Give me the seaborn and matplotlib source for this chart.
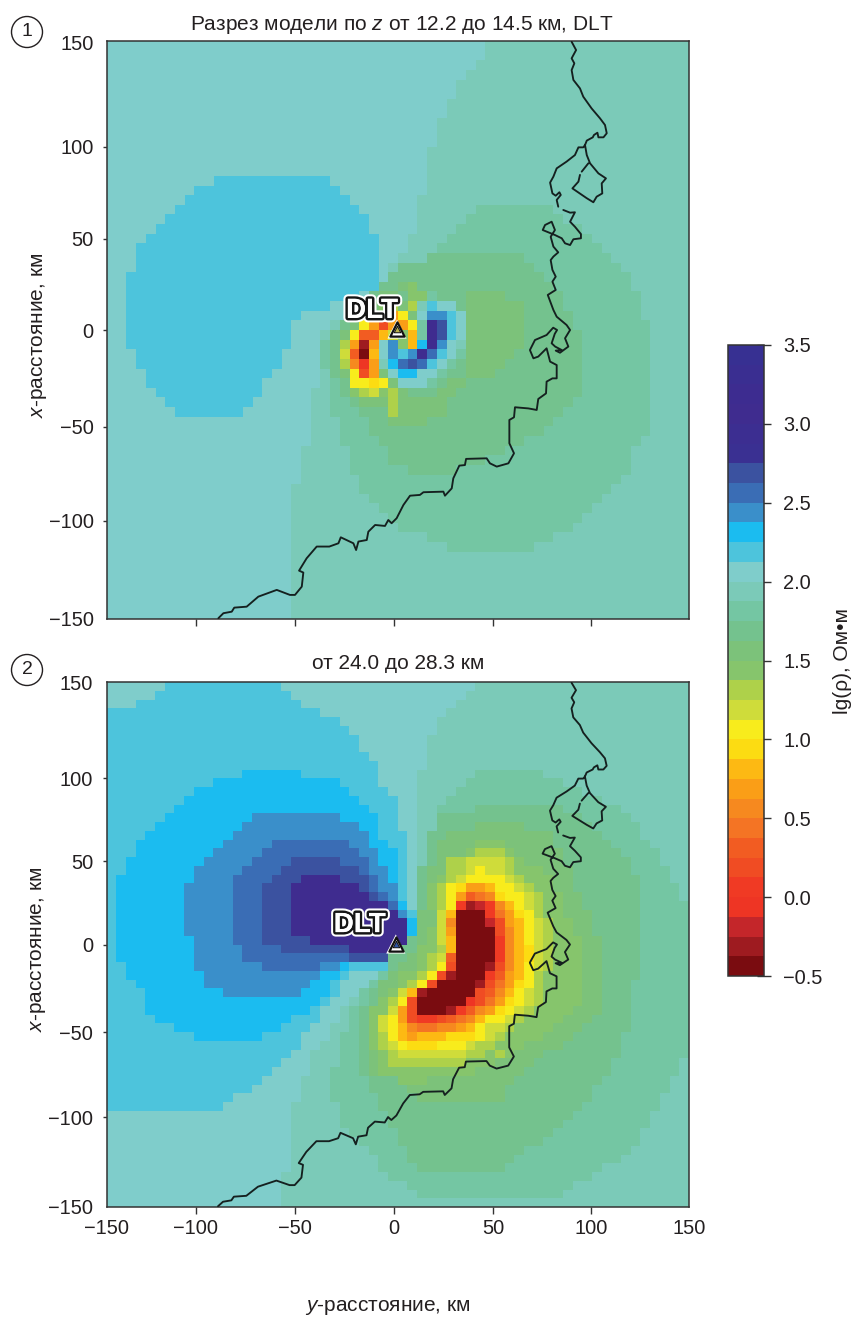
import numpy as np
import matplotlib
matplotlib.use("Agg")
import matplotlib.pyplot as plt
import matplotlib.patheffects as pe
from matplotlib.colors import ListedColormap
from matplotlib.path import Path
import seaborn as sns

sns.set_theme(style="white")
plt.rcParams["font.family"] = ["Liberation Sans", "DejaVu Sans"]
plt.rcParams["mathtext.fontset"] = "custom"
plt.rcParams["mathtext.it"] = "Liberation Sans:italic"
plt.rcParams["mathtext.rm"] = "Liberation Sans"

INK = "#231f20"
W, H = 856, 1318

# colour scale, lg(rho) from -0.5 to 3.5 in 32 steps
SCALE_COLORS = ["#7a0c10", "#9e1b20", "#c4262a", "#ee3524", "#f03a24", "#f04c23", "#f25c22", "#f47424",
                "#f6891f", "#fa9e17", "#fdb913", "#fcdc12", "#f8ec1c", "#cfdc3a", "#aed14a", "#86c56c",
                "#7cc27a", "#74c28e", "#74c6a3", "#7bcab8", "#7fcdcb", "#4dc4dc", "#1bbcf0", "#3a8fca",
                "#3a6db5", "#3b52a0", "#3a3092", "#3c2e91", "#3f2c8f", "#3d2c90", "#3a2e91", "#373092"]
LEVEL = dict(I=3.0, H=2.69, G=2.56, F=2.44, E=2.31, D=2.19, C=2.06, B=1.94, A=1.81, a=1.69, b=1.56, c=1.44,
             d=1.31, e=1.19, f=1.06, g=0.94, h=0.81, i=0.69, j=0.56, k=0.44, l=0.31, m=0.19, n=0.06,
             o=-0.06, p=-0.19, q=-0.31, r=-0.44)

# Section 1: iso-resistivity outlines, as (y km, x km)
S1_C = [(-155, 155), (49, 155), (49, 150), (25.3, 119), (18, 97), (15, 83), (10.3, 58.6), (5.2, 43), (-4.1, 31),
        (-9.3, 23), (-30, 5), (-40, -5), (-44, -48), (-49.5, -65), (-54.6, -88), (-54.6, -155), (-155, -155)]
S1_A = [(46, 65), (73, 65), (85, 58.6), (104, 45), (114.4, 35), (124, 15.6), (130, 0), (130, -53), (124, -57),
        (119.6, -72.6), (105.7, -86.6), (89.7, -103.8), (78.4, -109), (69.6, -114), (30.4, -114), (20.6, -109),
        (0, -103.8), (-10.8, -92), (-21, -79.5), (-30, -55.5), (-38.6, -17), (-39, -5), (-30, 0), (-20, 10),
        (-4, 24), (4.6, 35), (15, 38), (25, 50), (35.6, 58.6)]
S1_a = [(38.8, 40), (59.5, 40), (69.8, 34.6), (81.8, 19), (89.5, 8.7), (94.7, -5), (94.7, -33), (83.5, -43),
        (71.5, -53.6), (59.5, -60.5), (49, -65.7), (28.5, -73.5), (6.2, -73.5), (-4, -69), (-4, -64), (-16, -48.4),
        (-24.7, -34.6), (-33, -19), (-35, -5), (-20, 12), (-5, 30), (1, 33), (15, 38)]
S1_b = [(40, 20), (54, 20), (64.6, 12), (64.6, -5), (54.3, -20.8), (30.3, -28.5), (27, -38), (24, -42), (10, -50),
        (0, -53), (-6, -41), (-20, -34), (-16, -30), (0, -28), (15, -25), (25, -15), (34, 0), (34, 10), (36, 18)]
S1_D = [(-89.2, 79.6), (-40.2, 79.6), (-29.9, 74.4), (-24.7, 69.2), (-15.3, 59.7), (-10.1, 45), (-10.1, 20.8),
        (-29, 14.7), (-44.5, 10.4), (-54.8, 5.2), (-54.8, -4.3), (-60, -14.7), (-64.3, -19.9), (-69.4, -29.4),
        (-74.6, -38.9), (-84.9, -44.5), (-109.8, -44.5), (-119.8, -39.4), (-129.5, -25), (-134.7, -14.7),
        (-139, -4.3), (-139.5, 25.1), (-134.7, 39.8), (-129.5, 50.2), (-124.4, 54.5), (-119.2, 59.7),
        (-109.8, 69.2), (-99.5, 74.4)]
S1_LAYERS = [("C", S1_C), ("A", S1_A), ("a", S1_a), ("b", S1_b), ("D", S1_D)]

# Section 1: cell readings around the station; first row / first column of the block
S1_CELLS_ORIGIN = (25, 23)
S1_CELLS = [".......bc.....", ".....bbaccA...", "..abbcdbdBDCC.", "...bdfifbCFFDC", ".abfimiifAIHDC",
            ".bfllhechAIHDC", "adiqiCFchEIFCB", "aelrhCFDFIGDCA", "adjoiBEGHGDCAa", "abfmibCEECCAaa",
            ".affgfbCCCAa..", ".acdecdbaaa...", "..abbbdb......", "......db......"]

# Section 2: iso-resistivity outlines
S2_C = [(-155, 155), (40.6, 155), (40.6, 150), (25, 135), (18.2, 121.6), (14, 108), (9.6, 83.5), (9.6, 11),
        (9.6, -8), (4.5, -14), (-16, -20.3), (-30, -41), (-43.6, -62), (-50.5, -81), (-54.8, -98.4),
        (-55.7, -123), (-60, -142), (-60, -155), (-155, -155)]
S2_D = [(-121, 149), (-121, 155), (-61, 155), (-61, 149), (-55.7, 144.5), (-45.4, 135), (-30.8, 129), (-25.6, 124.5),
        (-20.4, 114), (-15.3, 109), (-10.1, 98.8), (-5, 84.5), (0.2, 84.5), (0.2, 64.5), (4.5, 64.5), (4.5, 24.5),
        (9.6, 15), (9.6, -5), (4.5, -14.6), (-4, -14.6), (-20.4, -15.5), (-25.6, -20), (-35, -31.7), (-40.2, -41.2),
        (-50.5, -54.6), (-55.7, -64), (-65, -73.6), (-70.3, -79.3), (-79.7, -84), (-84.9, -90), (-95.2, -94.6),
        (-155, -94.6), (-155, 134), (-135.6, 134), (-135.6, 139), (-125, 141)]
S2_E = [(-70.3, 99.7), (-50.5, 99.7), (-50.5, 94), (-35, 94), (-25.6, 89), (-20.4, 83.5), (-15.3, 78.8), (-11, 74),
        (-10, 64.5), (-5, 54), (0.2, 54), (0.2, 25.4), (4.5, 24.5), (4.5, 15), (9.6, 15), (9.6, -0.3), (4.5, -5),
        (0.2, -9), (-25.6, -10.8), (-30.8, -20.3), (-36, -21.2), (-36, -30), (-41, -30.8), (-45.4, -36.5),
        (-50.5, -40.3), (-55.7, -45), (-60, -50), (-75.4, -54.6), (-100.3, -54.6), (-110.6, -50), (-121, -44),
        (-126, -39.3), (-130.4, -34.6), (-131.3, -25), (-135.6, -24), (-140.7, -14.6), (-145, 0), (-145, 30),
        (-140.7, 44.5), (-135.6, 54), (-130.4, 64.5), (-121, 74), (-115.8, 78.8), (-110.6, 84.5), (-100.3, 89),
        (-90, 94)]
S2_F = [(-70.3, 74), (-30.8, 74), (-20.4, 69), (-15.3, 59.7), (-10, 54), (-5.8, 39.7), (0, 35), (0.2, 24.5),
        (4.5, 19.7), (4.5, -5), (0.2, -10), (-25.6, -10.8), (-35, -15.5), (-45.4, -20.3), (-45.4, -25), (-50.5, -29.8),
        (-84.9, -29.8), (-95.2, -25), (-100.3, -20.3), (-105.5, -10), (-105.5, 2.6), (-110.6, 5.4), (-110.6, 24.5),
        (-105.5, 39.7), (-100.3, 50), (-90, 58.8), (-79.7, 69.2)]
S2_G = [(-60, 59.7), (-25.6, 59.7), (-20.4, 54), (-15.3, 45.4), (-10, 39.7), (-5.8, 24.5), (0.2, 24.5), (0.2, 0),
        (-0.7, -5.1), (-4, -10), (-25.6, -10.8), (-40.2, -10.8), (-40.2, -14.6), (-70.3, -15.5), (-70.3, -10),
        (-79.7, -10), (-79.7, 0), (-84.9, 0), (-84.9, 34), (-80.6, 44.5), (-75.4, 49), (-70.3, 54)]
S2_H = [(-50.5, 49), (-30.8, 49), (-30.8, 44.5), (-20.4, 44.5), (-15.3, 35), (-10, 24.5), (-5.8, 17), (0.2, 17),
        (0.2, -5), (0, -10), (-25.6, -10), (-25.6, -5), (-60, -5), (-65, 0), (-70.3, 0), (-70.3, 34), (-65, 39.7),
        (-60, 44.5)]
S2_I = [(-45.4, 39.7), (-30.8, 39.7), (-30.8, 35), (-20.4, 35), (-15.3, 30), (-10, 24.5), (0.2, 20), (-0.7, 15),
        (4.5, 15), (4.5, -5), (-5.8, -5), (-25.6, -5), (-25.6, -0.3), (-45.4, -0.3), (-45.4, 5.4), (-55.7, 5.4),
        (-55.7, 30), (-50.5, 35)]
S2_A = [(44.9, 98.8), (74, 98.8), (84.4, 94), (114.4, 78.8), (119.6, 74), (129, 58.8), (138.5, 44.5), (144.5, 30),
        (149, 20.7), (149, -59.3), (143.6, -73.6), (138.5, -82), (134.2, -92.7), (129, -101), (123.9, -111.7),
        (114.4, -121.2), (99, -132.7), (89.5, -138.4), (80, -144), (9.6, -144), (4.5, -134.6), (-4, -134.6),
        (-9.3, -125), (-30, -100.3), (-35, -81.2), (-30, -58.4), (-25.6, -43), (-14.4, -20.3), (9.6, 0), (9.6, 30),
        (14.8, 54), (19, 74), (24.2, 84.5), (29.4, 89), (35.4, 94)]
S2_a = [(39.7, 78.8), (64.6, 78.8), (84.4, 77.8), (99, 70), (114.4, 55), (123.9, 40), (123.9, -7), (119.6, -41),
        (114.4, -62), (109.3, -73.6), (99, -87), (89.5, -98.4), (80, -110), (69.8, -115.5), (56, -127), (30.2, -131),
        (9.6, -127), (-4, -104), (-9.3, -89), (-19.6, -70), (-21.3, -43), (-14.4, -26), (-7.5, -18.4), (-7, -10),
        (9.6, 5), (9.6, 30), (14.8, 54), (20, 74), (35.4, 74)]
S2_b = [(39.7, 68), (64.6, 68), (78.4, 62.6), (89.5, 39.7), (104, 2.6), (104, -41.2), (89.5, -52.7), (74.9, -64),
        (54.3, -83), (54.3, -89), (9.6, -89), (-0.7, -79.3), (-4, -73.6), (-5.8, -64), (-10.9, -49), (-11, -30),
        (-7.5, -22.2), (9.6, -5), (14, 30), (20, 60)]
S2_c = [(39.7, 59.3), (55, 59.3), (64.6, 49), (79.3, 39.7), (84.4, 24.5), (94.7, -3), (94.7, -30), (83.5, -45),
        (64.6, -58.4), (35.4, -75.5), (0.2, -79.3), (-4, -73.6), (-5.8, -64), (-11, -54.6), (-5.8, -35.5),
        (-0.7, -22.2), (1, -18.4), (9.6, -13), (10.5, -1), (20, 13), (14.8, 28), (25, 45.5), (29.4, 49)]
S2_d = [(39.7, 54), (55, 54), (64.6, 39.7), (72, 28), (78, 12), (81, 0), (80, -28), (72, -42), (59.5, -52),
        (54.3, -66), (35.4, -68), (0.2, -72), (-4, -68), (-4, -62), (-10, -51), (-5, -35.5), (-0.7, -30),
        (9.6, -18.4), (14.8, -10.8), (20.8, 0), (20, 17), (20, 30), (25, 39.7), (35.4, 49)]
S2_LAYERS = [("C", S2_C), ("D", S2_D), ("E", S2_E), ("F", S2_F), ("G", S2_G), ("H", S2_H), ("I", S2_I),
             ("A", S2_A), ("a", S2_a), ("b", S2_b), ("c", S2_c), ("d", S2_d)]

# Section 2: cell readings of the low-resistivity body
S2_CELLS_ORIGIN = (20, 27)
S2_CELLS = ["........ddeeeed....", "........ddefeedc...", ".......cdeffffedc..", ".......dfgiihffedc.",
            ".......dfilkjgffedc", ".......dfnqpnjhfedc", ".......ehrrrnkigfdc", ".......ejrrrpmihfed",
            ".......eirrrrmjhfed", ".......ehrrrrnjhfed", ".......dhrrrrnjhged", ".......elrrrrnjhged",
            "......dfmrrrqmjhfed", ".....dfmqrrrnlihfdc", "....dfmrrrrqmkigfdc", "...ehqrrrrrmljhfedc",
            ".cdfmrrrrromkigfedc", "cceimrrrqnljigfedc.", "cefimnnmlkjhffedc..", "cefhjkkjjihfeedc...",
            "cdfhihhhgggfedc....", "cdefgggfffeddc.....", "bcdeeeeeeeddc......", "bcddddddddcc.......",
            "bccccccccc........."]

# coastline, y km then x km; NaN breaks the line
COAST_Y = [89.5, 91.8, 89.5, 90.9, 89.5, 90.4, 93.8, 95.5, 99.8, 104.1, 106.7, 107.6, 105.9, 103.3, 102.8, 101.0, 100.4,
           97.3, 96.4, 95.5, 93.0, 91.2, 86.9, 81.8, 80.1, 78.4, 79.6, 81.3, 83.2, 83.9, 81.8, 82.6, np.nan,
           85.2, 88.7, 91.2, 88.7, 91.2, 94.3, 94.3, 90.4, 88.7, 86.1, 84.4, 80.9, 75.8, 74.6, 75.8, 79.2, 80.9, 78.7,
           80.1, 82.6, 80.1, 78.7, 79.6, 81.3, 79.6, 81.3, 77.2, 80.1, 81.8, 86.9, 88.7, 86.1, 87.8, 83.5, 81.3, 84.4,
           81.0, 79.2, 80.8, 82.0, 80.0, 76.6, 70.6, 68.0, 69.8, 72.3, 76.6, 78.4, 81.8, 81.8, 79.6, 76.6, 76.3, 72.3,
           71.5, 67.2, 60.3, 59.8, 57.4, 57.4, 59.8, 56.9, 50.9, 47.4, 45.7, 35.1, 34.5, 31.6, 28.5, 27.7, 24.2, 23.4,
           13.1, 11.3, 6.2, 2.8, -0.7, -3.3, -5.0, -6.7, -11.8, -15.3, -16.1, -20.4, -21.6, -23.0, -29.5, -30.7, -35.4,
           -41.9, -47.1, -51.0, -48.8, -49.6, -53.1, -55.7, -62.5, -72.0, -78.0, -84.4, -85.7, -90.0, -92.6, np.nan,
           96.4, 97.3, 99.0, 103.3, 107.2, 105.0, 105.3, 102.4, 100.7, 97.3, 89.9, 93.0, 93.8, np.nan, 98.1, 94.7]
COAST_X = [149.6, 145.3, 141.0, 138.4, 134.9, 129.8, 125.4, 121.1, 115.0, 109.9, 106.4, 102.1, 100.0, 100.0, 102.4, 101.2,
           100.0, 98.3, 96.0, 94.8, 94.8, 90.8, 87.4, 83.9, 79.6, 76.5, 70.9, 69.7, 71.5, 70.1, 67.5, 64.0, np.nan,
           62.3, 60.9, 61.1, 56.2, 53.6, 49.8, 47.6, 47.1, 44.1, 45.0, 47.6, 49.3, 51.4, 51.9, 54.5, 56.2, 51.9, 48.4,
           43.3, 40.3, 38.1, 36.3, 31.2, 27.7, 25.1, 20.8, 18.2, 10.4, 6.9, 2.6, 0.0, -4.3, -8.6, -11.8, -10.7, -10.4,
           -8.6, -6.9, -2.0, 0.0, 1.2, -2.6, -5.2, -10.4, -14.7, -13.8, -9.5, -16.4, -18.2, -25.1, -25.1, -26.8, -32.9,
           -35.8, -41.5, -40.7, -40.1, -45.3, -46.7, -58.8, -64.0, -69.2, -70.9, -69.2, -66.6, -66.9, -70.1, -70.4,
           -77.0, -82.2, -86.0, -83.9, -84.2, -85.6, -86.0, -90.8, -97.7, -100.3, -98.6, -101.7, -101.2, -104.7, -109.0,
           -109.8, -114.2, -110.7, -107.6, -110.7, -112.4, -112.4, -118.5, -124.9, -125.9, -133.2, -137.5, -137.5, -134.9,
           -138.4, -143.6, -144.1, -146.2, -147.0, -149.6, np.nan,
           96.0, 90.8, 86.5, 81.3, 78.7, 76.1, 70.9, 69.2, 66.3, 68.4, 73.5, 77.0, 80.5, np.nan, 86.5, 82.2]

# axis ticks: where the drawn ticks sit (km) and what they are labelled
Y_TICK_AT = [-150, -104.1, -53.1, -2.1, 49, 99.5, 150]
Y_TICK_LABELS = ["−150", "−100", "−50", "0", "50", "100", "150"]
X1_TICK_AT = [149, 95, 47.4, 0, -50.2, -99, -150]
X2_TICK_AT = [150, 95.1, 47.7, 0, -50, -98.6, -150]
X_TICK_LABELS = ["150", "100", "50", "0", "−50", "−100", "−150"]
CBAR_TICKS = [-0.5, 0, 0.5, 1, 1.5, 2, 2.5, 3, 3.5]
CBAR_LABELS = ["−0.5", "0.0", "0.5", "1.0", "1.5", "2.0", "2.5", "3.0", "3.5"]

N = 60
STEP = 300 / N


def to_col(y):
    return (np.asarray(y, float) + 150) / STEP


def to_row(x):
    return (150 - np.asarray(x, float)) / STEP


def section(layers, cells, origin):
    yy = -150 + STEP * (np.arange(N) + 0.5)
    xx = 150 - STEP * (np.arange(N) + 0.5)
    gy, gx = np.meshgrid(yy, xx)
    pts = np.column_stack([gy.ravel(), gx.ravel()])
    grid = np.full((N, N), LEVEL["B"])
    for key, outline in layers:
        grid[Path(outline).contains_points(pts).reshape(N, N)] = LEVEL[key]
    r0, c0 = origin
    for i, row in enumerate(cells):
        for j, ch in enumerate(row):
            if ch != ".":
                grid[r0 + i, c0 + j] = LEVEL[ch]
    return grid


def axes_box(x0, y0, x1, y1):
    return [x0 / W, 1 - y1 / H, (x1 - x0) / W, (y1 - y0) / H]


fig = plt.figure(figsize=(W / 100, H / 100), dpi=100)
ax1 = fig.add_axes(axes_box(107, 41, 689, 619))
ax2 = fig.add_axes(axes_box(106.5, 682, 689, 1207))
cax = fig.add_axes(axes_box(728, 345, 764, 976))
cmap = ListedColormap(SCALE_COLORS)

sns.heatmap(section(S1_LAYERS, S1_CELLS, S1_CELLS_ORIGIN), ax=ax1, cmap=cmap, vmin=-0.5, vmax=3.5,
            cbar=True, cbar_ax=cax, xticklabels=False, yticklabels=False)
sns.heatmap(section(S2_LAYERS, S2_CELLS, S2_CELLS_ORIGIN), ax=ax2, cmap=cmap, vmin=-0.5, vmax=3.5,
            cbar=False, xticklabels=False, yticklabels=False)

for ax, tick_at, inner, dlt_at, tri_at, tri_fill in [
        (ax1, X1_TICK_AT, False, (-13.4, 9.9), (-0.5, 0.5), "#b9b24a"),
        (ax2, X2_TICK_AT, True, (-19.6, 11.1), (-1, 0.3), "#2f55a4")]:
    ax.plot(to_col(COAST_Y), to_row(COAST_X), color="#15201f", lw=1.35, zorder=3)
    for s in ax.spines.values():
        s.set_visible(True)
        s.set_color("#333333")
        s.set_linewidth(1.1)
    ax.set_xticks(to_col(Y_TICK_AT))
    ax.set_xticklabels(Y_TICK_LABELS if inner else [""] * 7, fontsize=14.4, color=INK)
    ax.set_yticks(to_row(tick_at))
    ax.set_yticklabels(X_TICK_LABELS, fontsize=14.4, color=INK, rotation=0)
    ax.tick_params(axis="x", bottom=True, direction="out", length=5, width=1, color="#333333", pad=3.5)
    ax.tick_params(axis="y", left=True, direction="inout", length=6, width=1, color="#333333", pad=6.5)
    for axis in (ax.xaxis, ax.yaxis):
        major = axis.get_major_ticks()
        major[0].tick1line.set_visible(False)
        major[-1].tick1line.set_visible(False)
    ax.set_ylabel("$\\mathit{x}$-расстояние, км", fontsize=15, color=INK)
    ax.yaxis.set_label_coords(-0.1, 0.49)
    ax.text(to_col(dlt_at[0]), to_row(dlt_at[1]), "DLT", fontsize=20, fontweight="bold", color="white",
            ha="center", va="center", zorder=6,
            path_effects=[pe.withStroke(linewidth=6.5, foreground="white"),
                          pe.withStroke(linewidth=3.6, foreground="#151515"),
                          pe.Normal()])
    ax.scatter(to_col(tri_at[0]), to_row(tri_at[1]), marker="^", s=190, c="white", edgecolors="none", zorder=7)
    ax.scatter(to_col(tri_at[0]), to_row(tri_at[1]), marker="^", s=105, c="white", edgecolors="#111111",
               linewidths=1.6, zorder=8)
    ax.scatter(to_col(tri_at[0]), to_row(tri_at[1]), marker="^", s=22, c=tri_fill, edgecolors="#111111",
               linewidths=0.7, zorder=9)

ax1.set_title("Разрез модели по $\\mathit{z}$ от 12.2 до 14.5 км, DLT", fontsize=15, color=INK, x=0.507, y=1.005)
ax2.set_title("от 24.0 до 28.3 км", fontsize=15, color=INK, x=0.5, y=1.0095)
ax2.set_xlabel("$\\mathit{y}$-расстояние, км", fontsize=15, color=INK)
ax2.xaxis.set_label_coords(0.483, -0.173)

cbar = ax1.collections[0].colorbar
cbar.set_ticks(CBAR_TICKS, labels=CBAR_LABELS)
cbar.ax.tick_params(which="major", right=True, direction="inout", length=10.5, width=1, color="#333333",
                    labelsize=14.4, labelcolor=INK, pad=8.5)
cbar.ax.set_yticks(CBAR_TICKS, minor=True)
cbar.ax.tick_params(which="minor", left=True, right=False, direction="in", length=3.5, width=1, color="#333333")
cbar.outline.set_visible(True)
cbar.outline.set_edgecolor("#333333")
cbar.outline.set_linewidth(1.1)
cbar.set_label("lg(ρ), Ом•м", fontsize=15, color=INK)
cbar.ax.yaxis.set_label_coords(2.92, 0.5)

for label, py in [("1", 32), ("2", 670)]:
    fig.text(27 / W, 1 - py / H, label, fontsize=14, color=INK, ha="center", va="center",
             bbox=dict(boxstyle="circle,pad=0.36", fc="white", ec=INK, lw=1.0))

fig.savefig("out.png", dpi=100, facecolor="white")
